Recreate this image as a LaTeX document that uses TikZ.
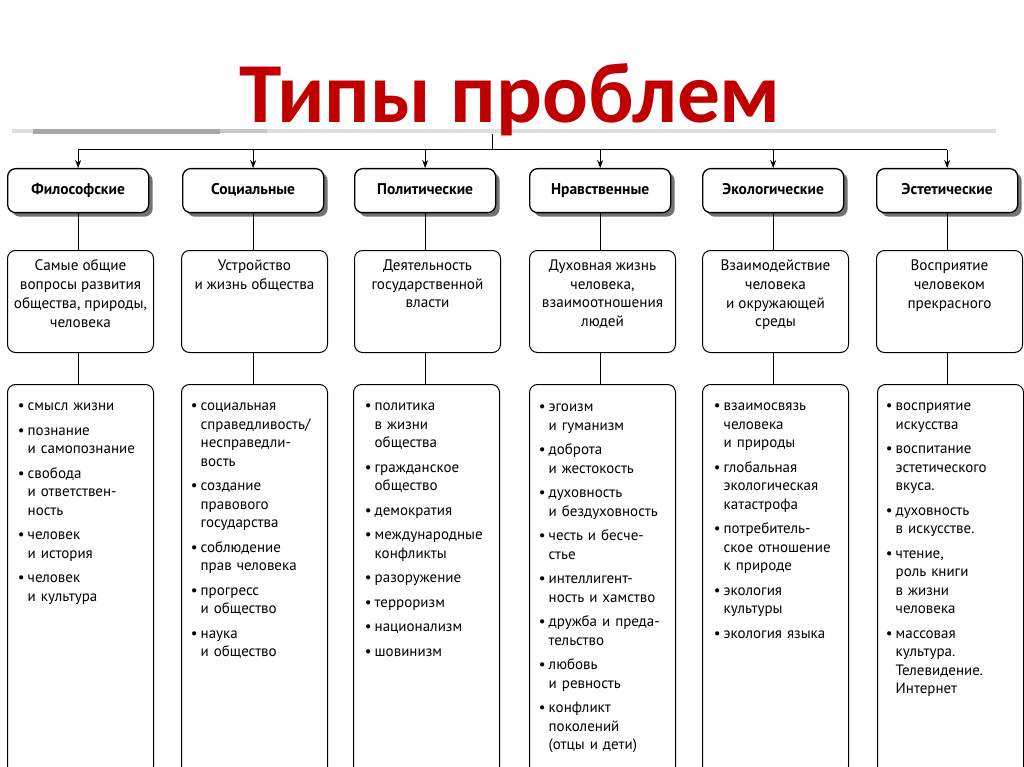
\documentclass[tikz,border=0pt]{standalone}
\usepackage{fontspec}
\setmainfont{PT Sans}
\newfontfamily\titlefont{Carlito}
\usepackage{enumitem}
\usetikzlibrary{arrows.meta,shadows}
\definecolor{titlered}{RGB}{192,0,0}
\newlist{blist}{itemize}{1}
\setlist[blist]{label=\textbullet,leftmargin=8.5pt,labelsep=3pt,itemsep=6pt,topsep=0pt,partopsep=0pt,parsep=0pt}
\begin{document}
\begin{tikzpicture}[x=1pt,y=-1pt,
  headbox/.style={draw,line width=1.3pt,rounded corners=8pt,fill=white,minimum width=141pt,minimum height=44pt,inner sep=0pt,text height=11pt,text depth=3.5pt,anchor=north west,font=\fontsize{15.5}{18}\selectfont\bfseries,drop shadow={shadow xshift=4pt,shadow yshift=-4pt,fill=black!55,opacity=1}},
  descbox/.style={draw,line width=1pt,rounded corners=8pt,minimum width=146pt,minimum height=102pt,inner sep=0pt,anchor=north west},
  desctext/.style={anchor=north,align=center,inner sep=0pt,font=\fontsize{15.2}{18.8}\selectfont},
  listbox/.style={draw,line width=1pt,rounded corners=8pt,minimum width=146pt,minimum height=390pt,inner sep=0pt,anchor=north west},
  listtext/.style={anchor=north west,text width=134pt,inner sep=0pt,font=\fontsize{15}{18.5}\selectfont},
  conn/.style={line width=1pt},
  arr/.style={line width=1pt,-{Stealth[length=8pt,width=6pt]}}]
\clip (0,0) rectangle (1024,767);
\fill[white] (0,0) rectangle (1024,767);
% gray rule under title
\fill[black!13] (12,129.5) rectangle (996,133.5);
\fill[black!35] (33,129) rectangle (220,134);
\fill[black!22] (220,129.5) rectangle (267,133.5);
% title
\node[font=\titlefont\bfseries\fontsize{85.5}{86}\selectfont,text=titlered,anchor=base,inner sep=0pt] (title) at (510,123) {Типы проблем};
% header boxes
\node[headbox] (h1) at (7,168) {Философские};
\node[headbox] (h2) at (182,168) {Социальные};
\node[headbox] (h3) at (354,168) {Политические};
\node[headbox] (h4) at (529,168) {Нравственные};
\node[headbox] (h5) at (702,168) {Экологические};
\node[headbox] (h6) at (876,168) {Эстетические};
% top connectors
\coordinate (stem) at (492,134);
\coordinate (bus) at (492,150);
\draw[conn] (stem) -- (bus);
\draw[conn] (h1.north |- bus) -- (h6.north |- bus);
\foreach \h in {h1,h2,h3,h4,h5,h6}{\draw[arr] (\h.north |- bus) -- (\h.north);}
% description boxes
\node[descbox] (d1) at (7,250) {};
\node[descbox] (d2) at (181,250) {};
\node[descbox] (d3) at (354,250) {};
\node[descbox] (d4) at (529,250) {};
\node[descbox] (d5) at (702,250) {};
\node[descbox] (d6) at (876,250) {};
\node[desctext] (d1t) at ([yshift=-9.5pt]d1.north) {Самые общие\\вопросы развития\\общества, природы,\\человека};
\node[desctext] (d2t) at ([yshift=-9.5pt]d2.north) {Устройство\\и жизнь общества};
\node[desctext] (d3t) at ([yshift=-9.5pt]d3.north) {Деятельность\\государственной\\власти};
\node[desctext] (d4t) at ([yshift=-9.5pt]d4.north) {Духовная жизнь\\человека,\\взаимоотношения\\людей};
\node[desctext] (d5t) at ([yshift=-9.5pt]d5.north) {Взаимодействие\\человека\\и окружающей\\среды};
\node[desctext] (d6t) at ([yshift=-9.5pt]d6.north) {Восприятие\\человеком\\прекрасного};
% list boxes
\node[listbox] (l1) at (7,384) {};
\node[listbox] (l2) at (181,384) {};
\node[listbox] (l3) at (353,384) {};
\node[listbox] (l4) at (529,384) {};
\node[listbox] (l5) at (702,384) {};
\node[listbox] (l6) at (877,384) {};
% vertical connectors
\foreach \i in {1,...,6}{
  \draw[conn] (h\i.south) -- (h\i.south |- d\i.north);
  \draw[conn] (h\i.south |- d\i.south) -- (h\i.south |- l\i.north);
}
% list texts
\node[listtext] (l1t) at ([xshift=12pt,yshift=-8pt]l1.north west) {\begin{blist}
\item смысл жизни
\item познание\\и самопознание
\item свобода\\и ответствен-\\ность
\item человек\\и история
\item человек\\и культура
\end{blist}};
\node[listtext] (l2t) at ([xshift=11pt,yshift=-8pt]l2.north west) {\begin{blist}
\item социальная\\справедливость/\\несправедли-\\вость
\item создание\\правового\\государства
\item соблюдение\\прав человека
\item прогресс\\и общество
\item наука\\и общество
\end{blist}};
\node[listtext] (l3t) at ([xshift=13pt,yshift=-8pt]l3.north west) {\begin{blist}
\item политика\\в жизни\\общества
\item гражданское\\общество
\item демократия
\item международные\\конфликты
\item разоружение
\item терроризм
\item национализм
\item шовинизм
\end{blist}};
\node[listtext] (l4t) at ([xshift=11pt,yshift=-9pt]l4.north west) {\begin{blist}
\item эгоизм\\и гуманизм
\item доброта\\и жестокость
\item духовность\\и бездуховность
\item честь и бесче-\\стье
\item интеллигент-\\ность и хамство
\item дружба и преда-\\тельство
\item любовь\\и ревность
\item конфликт\\поколений\\(отцы и дети)
\end{blist}};
\node[listtext] (l5t) at ([xshift=13pt,yshift=-8pt]l5.north west) {\begin{blist}
\item взаимосвязь\\человека\\и природы
\item глобальная\\экологическая\\катастрофа
\item потребитель-\\ское отношение\\к природе
\item экология\\культуры
\item экология языка
\end{blist}};
\node[listtext] (l6t) at ([xshift=10pt,yshift=-8pt]l6.north west) {\begin{blist}
\item восприятие\\искусства
\item воспитание\\эстетического\\вкуса.
\item духовность\\в искусстве.
\item чтение,\\роль книги\\в жизни\\человека
\item массовая\\культура.\\Телевидение.\\Интернет
\end{blist}};
\end{tikzpicture}
\end{document}
